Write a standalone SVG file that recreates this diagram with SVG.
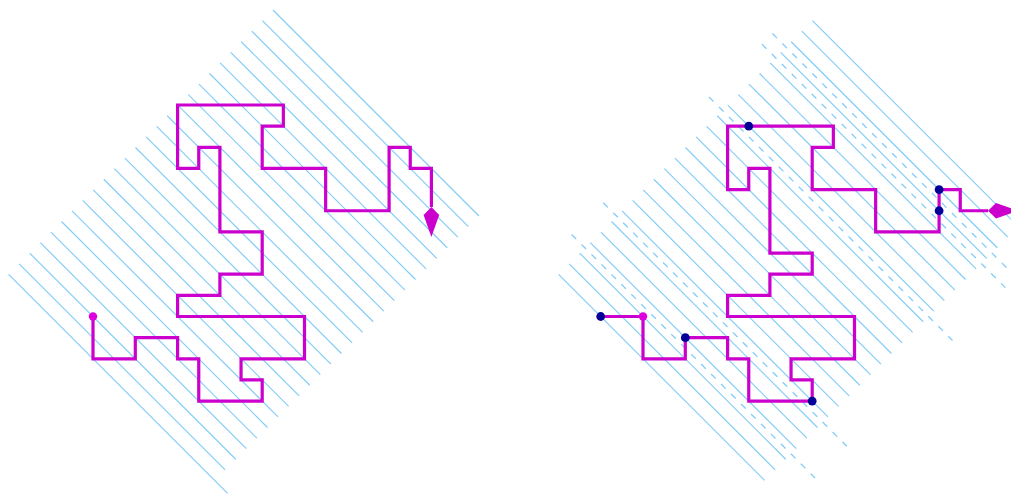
<svg xmlns="http://www.w3.org/2000/svg" width="1011" height="495" viewBox="0 0 1011 495">
<style>
.hatch line{stroke:#82ccf7;stroke-width:1.15;fill:none}
.dash line{stroke:#82ccf7;stroke-width:1.3;stroke-dasharray:6.5 7.6;fill:none}
.route{fill:none;stroke:#cc00cc;stroke-width:3.2;stroke-linejoin:miter;stroke-linecap:butt}
.start{fill:#dd00dd}
.pt{fill:#000099}
</style>
<defs>
<marker id="kite" markerUnits="userSpaceOnUse" markerWidth="40" markerHeight="20" refX="0" refY="0" viewBox="-2 -10 40 20" orient="auto" overflow="visible">
<path d="M0,0 L8,-7.8 L30,0 L8,7.8 Z" fill="#cc00cc"/>
</marker>
</defs>
<g id="left-hatch" class="hatch">
<line x1="272.98" y1="10.02" x2="478.98" y2="216.02"/>
<line x1="262.4" y1="20.6" x2="468.4" y2="226.6"/>
<line x1="251.83" y1="31.18" x2="457.83" y2="237.18"/>
<line x1="241.25" y1="41.75" x2="447.25" y2="247.75"/>
<line x1="230.68" y1="52.33" x2="436.68" y2="258.33"/>
<line x1="220.1" y1="62.9" x2="426.1" y2="268.9"/>
<line x1="209.53" y1="73.48" x2="415.53" y2="279.48"/>
<line x1="198.95" y1="84.05" x2="404.95" y2="290.05"/>
<line x1="188.38" y1="94.63" x2="394.38" y2="300.63"/>
<line x1="177.8" y1="105.2" x2="383.8" y2="311.2"/>
<line x1="167.23" y1="115.78" x2="373.23" y2="321.78"/>
<line x1="156.65" y1="126.35" x2="362.65" y2="332.35"/>
<line x1="146.08" y1="136.93" x2="352.08" y2="342.93"/>
<line x1="135.5" y1="147.5" x2="341.5" y2="353.5"/>
<line x1="124.93" y1="158.08" x2="330.93" y2="364.08"/>
<line x1="114.35" y1="168.65" x2="320.35" y2="374.65"/>
<line x1="103.78" y1="179.23" x2="309.78" y2="385.23"/>
<line x1="93.2" y1="189.8" x2="299.2" y2="395.8"/>
<line x1="82.63" y1="200.38" x2="288.63" y2="406.38"/>
<line x1="72.05" y1="210.95" x2="278.05" y2="416.95"/>
<line x1="61.48" y1="221.53" x2="267.48" y2="427.53"/>
<line x1="50.9" y1="232.1" x2="256.9" y2="438.1"/>
<line x1="40.33" y1="242.68" x2="246.33" y2="448.68"/>
<line x1="29.75" y1="253.25" x2="235.75" y2="459.25"/>
<line x1="19.18" y1="263.83" x2="225.18" y2="469.83"/>
<line x1="8.6" y1="274.4" x2="227.6" y2="493.4"/>
</g>
<g id="right-hatch" class="hatch">
<line x1="812.4" y1="20.6" x2="1018.4" y2="226.6"/>
<line x1="801.83" y1="31.18" x2="1007.83" y2="237.18"/>
<line x1="791.25" y1="41.75" x2="997.25" y2="247.75"/>
<line x1="780.68" y1="52.33" x2="986.68" y2="258.33"/>
<line x1="770.1" y1="62.9" x2="976.1" y2="268.9"/>
<line x1="759.53" y1="73.48" x2="965.53" y2="279.48"/>
<line x1="748.95" y1="84.05" x2="954.95" y2="290.05"/>
<line x1="738.38" y1="94.63" x2="944.38" y2="300.63"/>
<line x1="727.8" y1="105.2" x2="933.8" y2="311.2"/>
<line x1="717.23" y1="115.78" x2="923.23" y2="321.78"/>
<line x1="706.65" y1="126.35" x2="912.65" y2="332.35"/>
<line x1="696.08" y1="136.93" x2="902.08" y2="342.93"/>
<line x1="685.5" y1="147.5" x2="891.5" y2="353.5"/>
<line x1="674.93" y1="158.08" x2="880.93" y2="364.08"/>
<line x1="664.35" y1="168.65" x2="870.35" y2="374.65"/>
<line x1="653.78" y1="179.23" x2="859.78" y2="385.23"/>
<line x1="643.2" y1="189.8" x2="849.2" y2="395.8"/>
<line x1="632.63" y1="200.38" x2="838.63" y2="406.38"/>
<line x1="622.05" y1="210.95" x2="828.05" y2="416.95"/>
<line x1="611.48" y1="221.53" x2="817.48" y2="427.53"/>
<line x1="600.9" y1="232.1" x2="806.9" y2="438.1"/>
<line x1="590.33" y1="242.68" x2="796.33" y2="448.68"/>
<line x1="579.75" y1="253.25" x2="785.75" y2="459.25"/>
<line x1="569.18" y1="263.83" x2="775.18" y2="469.83"/>
<line x1="558.6" y1="274.4" x2="764.6" y2="480.4"/>
</g>
<g id="right-dashed" class="dash">
<line x1="772.46" y1="33.54" x2="1015.96" y2="277.04"/>
<line x1="761.89" y1="44.11" x2="1005.39" y2="287.61"/>
<line x1="709.01" y1="96.99" x2="952.51" y2="340.49"/>
<line x1="603.26" y1="202.74" x2="846.76" y2="446.24"/>
<line x1="571.54" y1="234.46" x2="815.04" y2="477.96"/>
</g>
<g id="connectors">
<path id="left-route" class="route" marker-end="url(#kite)" d="M93,316.5 V358.8 H135.3 V337.65 H177.6 V358.8 H198.75 V401.1 H262.2 V379.95 H241.05 V358.8 H304.5 V316.5 H177.6 V295.35 H219.9 V274.2 H262.2 V231.9 H219.9 V147.3 H198.75 V168.45 H177.6 V105 H283.35 V126.15 H262.2 V168.45 H325.65 V210.75 H389.1 V147.3 H410.25 V168.45 H431.4 V207"/>
<path id="right-route" class="route" marker-end="url(#kite)" d="M600.7,316.5 H643 V358.8 H685.3 V337.65 H727.6 V358.8 H748.75 V401.1 H812.2 V379.95 H791.05 V358.8 H854.5 V316.5 H727.6 V295.35 H769.9 V274.2 H812.2 V253.05 H769.9 V168.45 H748.75 V189.6 H727.6 V126.15 H833.35 V147.3 H812.2 V189.6 H875.65 V231.9 H939.1 V189.6 H960.25 V210.75 H988"/>
</g>
<g id="left-start"><circle class="start" cx="93" cy="316.5" r="4.2"/></g>
<g id="right-start"><circle class="start" cx="643" cy="316.5" r="4.2"/></g>
<g id="right-points">
<circle class="pt" cx="600.7" cy="316.5" r="4.4"/>
<circle class="pt" cx="685.3" cy="337.65" r="4.4"/>
<circle class="pt" cx="812.2" cy="401.1" r="4.4"/>
<circle class="pt" cx="748.75" cy="126.15" r="4.4"/>
<circle class="pt" cx="939.1" cy="189.6" r="4.4"/>
<circle class="pt" cx="939.1" cy="210.75" r="4.4"/>
</g>
</svg>
